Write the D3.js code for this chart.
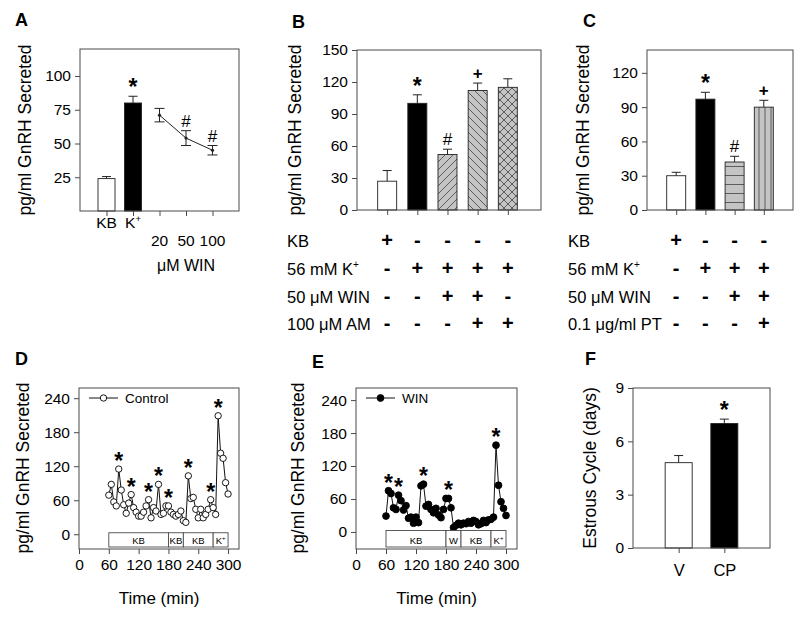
<!DOCTYPE html>
<html><head><meta charset="utf-8">
<script src="https://cdn.jsdelivr.net/npm/d3@7"></script>
<style>body{margin:0;background:#fff} text{font-family:"Liberation Sans",Arial,sans-serif;fill:#000}</style>
</head><body><svg id="c" width="800" height="617"></svg>
<script>
// ---------- DATA ----------
// Panel A
const aBarCats = ["KB", "K"];
const aBarSup = ["", "+"];
const aBarVals = [24, 80];
const aBarErr = [1.5, 5];
const aDoses = ["20", "50", "100"];
const aDoseVals = [71, 54, 45];
const aDoseErr = [5, 5.5, 3.5];
const aDoseMarks = ["", "#", "#"];
const aYTicks = [25, 50, 75, 100];
// Panel B
const bVals = [27, 100, 52, 112, 115];
const bErr = [10, 8, 5, 7, 8];
const bFills = ["white", "black", "diagUp", "diagDown", "cross"];
const bMarks = ["", "*", "#", "+", ""];
const bRowLabels = ["KB", "56 mM K", "50 μM WIN", "100 μM AM"];
const bRowSup = ["", "+", "", ""];
const bSigns = [["+","-","-","-","-"],["-","+","+","+","+"],["-","-","+","+","-"],["-","-","-","+","+"]];
const bYTicks = [0, 30, 60, 90, 120, 150];
// Panel C
const cVals = [30, 97, 42, 90];
const cErr = [3, 6, 5, 6];
const cFills = ["white", "black", "horiz", "vert"];
const cMarks = ["", "*", "#", "+"];
const cRowLabels = ["KB", "56 mM K", "50 μM WIN", "0.1 μg/ml PT"];
const cRowSup = ["", "+", "", ""];
const cSigns = [["+","-","-","-"],["-","+","+","+"],["-","-","+","+"],["-","-","-","+"]];
const cYTicks = [0, 30, 60, 90, 120];
// Panels D and E (time course, min)
const timeMin = [60,65,70,75,80,85,90,95,100,105,110,115,120,125,130,135,140,145,150,155,160,165,170,175,180,185,190,195,200,205,210,215,220,225,230,235,240,245,250,255,260,265,270,275,280,285,290,295,300];
const dControl = [69,88,57,50,115,78,52,37,55,70,47,39,32,32,39,50,61,29,47,41,88,35,37,50,50,39,35,32,35,41,24,21,103,63,65,44,29,44,29,35,44,61,47,35,209,143,134,91,71];
const dStars = [4, 9, 16, 20, 24, 32, 41, 44];
const dSegments = [{from:60,to:180,label:"KB",sup:""},{from:180,to:210,label:"KB",sup:""},{from:210,to:270,label:"KB",sup:""},{from:270,to:300,label:"K",sup:"+"}];
const eWin = [29,75,70,44,41,67,57,40,48,25,27,16,27,17,84,87,47,50,41,35,43,31,26,41,61,61,44,8,12,16,13,16,15,19,16,21,19,13,15,21,17,22,23,27,158,85,55,43,30];
const eStars = [1, 5, 15, 25, 44];
const eSegments = [{from:60,to:180,label:"KB",sup:""},{from:180,to:210,label:"W",sup:""},{from:210,to:270,label:"KB",sup:""},{from:270,to:300,label:"K",sup:"+"}];
const timeTicks = [0, 60, 120, 180, 240, 300];
const deYTicks = [0, 60, 120, 180, 240];
// Panel F
const fCats = ["V", "CP"];
const fVals = [4.8, 7.0];
const fErr = [0.4, 0.25];
const fMarks = ["", "*"];
const fYTicks = [0, 3, 6, 9];

// ---------- DRAWING ----------
const svg = d3.select("#c");
const FONT = "'Liberation Sans', Arial, sans-serif";
const FRAME = "#4a4a4a";
const GRAY = "#c4c4c4";
const HATCH = "#505050";

const defs = svg.append("defs");
function pat(id, w, h, d) {
  const p = defs.append("pattern").attr("id", id).attr("patternUnits", "userSpaceOnUse").attr("width", w).attr("height", h);
  p.append("rect").attr("width", w).attr("height", h).attr("fill", GRAY);
  p.append("path").attr("d", d).attr("stroke", HATCH).attr("stroke-width", 0.9).attr("fill", "none");
}
pat("diagUp", 8, 8, "M0,8L8,0M-2,2L2,-2M6,10L10,6");
pat("diagDown", 8, 8, "M0,0L8,8M-2,6L2,10M6,-2L10,2");
pat("cross", 8, 8, "M0,8L8,0M-2,2L2,-2M6,10L10,6M0,0L8,8M-2,6L2,10M6,-2L10,2");
pat("horiz", 8, 9, "M0,4.5L8,4.5");
pat("vert", 6, 8, "M3,0L3,8");
function fillOf(f) { return (f === "white" || f === "black") ? f : `url(#${f})`; }

function frame(x0, x1, y0, y1) {
  svg.append("rect").attr("x", x0).attr("y", y0).attr("width", x1 - x0).attr("height", y1 - y0)
    .attr("fill", "none").attr("stroke", FRAME).attr("stroke-width", 1);
}
function yAxis(scale, x0, ticks) {
  const g = svg.append("g").attr("transform", `translate(${x0},0)`)
    .call(d3.axisLeft(scale).tickValues(ticks).tickSize(5).tickPadding(4));
  g.select(".domain").remove();
  g.selectAll("line").attr("stroke", FRAME);
  g.selectAll("text").attr("font-family", FONT).attr("font-size", 15.5).attr("fill", "#111");
  return g;
}
function xTicks(scale, y0, vals, labels) {
  const g = svg.append("g").attr("transform", `translate(0,${y0})`)
    .call(d3.axisBottom(scale).tickValues(vals).tickSize(5).tickPadding(5).tickFormat((d, i) => labels ? labels[i] : d));
  g.select(".domain").remove();
  g.selectAll("line").attr("stroke", FRAME);
  g.selectAll("text").attr("font-family", FONT).attr("font-size", 15.5).attr("fill", "#111");
  return g;
}
function yTitle(text, x, y) {
  svg.append("text").attr("transform", `translate(${x},${y}) rotate(-90)`).attr("text-anchor", "middle")
    .attr("font-size", 17.5).text(text);
}
function letter(t, x, y) {
  svg.append("text").attr("x", x).attr("y", y).attr("font-size", 18).attr("font-weight", "bold").text(t);
}
function mark(t, x, y) {
  if (!t) return;
  svg.append("text").attr("x", x).attr("y", t === "*" ? y + 3 : y).attr("text-anchor", "middle")
    .attr("font-size", t === "*" ? 23 : 17).attr("font-weight", t === "#" ? "normal" : "bold").text(t);
}
function bars(xs, ys, positions, vals, errs, fills, marks, w) {
  positions.forEach((p, i) => {
    const cx = xs(p);
    svg.append("rect").attr("x", cx - w / 2).attr("y", ys(vals[i])).attr("width", w)
      .attr("height", ys(0) - ys(vals[i])).attr("fill", fillOf(fills[i])).attr("stroke", "#222").attr("stroke-width", 0.9);
    const top = ys(vals[i] + errs[i]);
    svg.append("line").attr("x1", cx).attr("x2", cx).attr("y1", ys(vals[i])).attr("y2", top).attr("stroke", "#222");
    svg.append("line").attr("x1", cx - 4.5).attr("x2", cx + 4.5).attr("y1", top).attr("y2", top).attr("stroke", "#222");
    mark(marks[i], cx, top - 4);
  });
}
function table(labelX, xs, positions, labels, sups, signs) {
  const rowY = [247, 275, 303, 330];
  labels.forEach((lab, r) => {
    const t = svg.append("text").attr("x", labelX).attr("y", rowY[r]).attr("font-size", 16.5);
    t.append("tspan").text(lab);
    if (sups[r]) t.append("tspan").attr("dy", -7).attr("font-size", 10).text(sups[r]);
    signs[r].forEach((s, c) => {
      svg.append("text").attr("x", xs(positions[c])).attr("y", rowY[r]).attr("text-anchor", "middle")
        .attr("font-weight", "bold").attr("font-size", 20).text(s);
    });
  });
}

// ----- Panel A -----
{
  const x = d3.scaleLinear().domain([0, 6]).range([80, 239]);
  const y = d3.scaleLinear().domain([0, 120]).range([211, 49]);
  const barPos = [1, 2], dosePos = [3, 4, 5];
  yAxis(y, 80, aYTicks);
  svg.append("g").attr("transform", "translate(0,211)")
    .call(d3.axisBottom(x).tickValues(barPos.concat(dosePos)).tickSize(5).tickFormat(""))
    .call(g => { g.select(".domain").remove(); g.selectAll("line").attr("stroke", FRAME); });
  bars(x, y, barPos, aBarVals, aBarErr, ["white", "black"], ["", "*"], 17);
  const pts = dosePos.map((p, i) => [x(p), y(aDoseVals[i])]);
  svg.append("path").attr("d", d3.line()(pts)).attr("fill", "none").attr("stroke", "#222").attr("stroke-width", 1);
  dosePos.forEach((p, i) => {
    const cx = x(p), t = y(aDoseVals[i] + aDoseErr[i]), b = y(aDoseVals[i] - aDoseErr[i]);
    svg.append("line").attr("x1", cx).attr("x2", cx).attr("y1", t).attr("y2", b).attr("stroke", "#222");
    [t, b].forEach(yy => svg.append("line").attr("x1", cx - 5).attr("x2", cx + 5).attr("y1", yy).attr("y2", yy).attr("stroke", "#222"));
    svg.append("circle").attr("cx", cx).attr("cy", y(aDoseVals[i])).attr("r", 1.6).attr("fill", "#222");
    mark(aDoseMarks[i], cx, t - 4);
  });
  frame(80, 239, 49, 211);
  barPos.forEach((p, i) => {
    const t = svg.append("text").attr("x", x(p)).attr("y", 228).attr("text-anchor", "middle").attr("font-size", 15.5);
    t.append("tspan").text(aBarCats[i]);
    if (aBarSup[i]) t.append("tspan").attr("dy", -6).attr("font-size", 9.5).text(aBarSup[i]);
  });
  dosePos.forEach((p, i) => svg.append("text").attr("x", x(p)).attr("y", 246).attr("text-anchor", "middle").attr("font-size", 15.5).text(aDoses[i]));
  svg.append("text").attr("x", x(4)).attr("y", 271).attr("text-anchor", "middle").attr("font-size", 16).text("μM WIN");
  yTitle("pg/ml GnRH Secreted", 31, 130);
  letter("A", 15, 26);
}

// ----- Panel B -----
{
  const x = d3.scaleLinear().domain([0, 6.1]).range([357, 541]);
  const y = d3.scaleLinear().domain([0, 150]).range([210, 50]);
  const pos = [1, 2, 3, 4, 5];
  yAxis(y, 357, bYTicks);
  xTicks(x, 210, pos, pos.map(() => ""));
  bars(x, y, pos, bVals, bErr, bFills, bMarks, 19);
  frame(357, 541, 50, 210);
  table(287, x, pos, bRowLabels, bRowSup, bSigns);
  yTitle("pg/ml GnRH Secreted", 301, 130);
  letter("B", 292, 28);
}

// ----- Panel C -----
{
  const x = d3.scaleLinear().domain([0, 5]).range([647, 793]);
  const y = d3.scaleLinear().domain([0, 140]).range([210, 50]);
  const pos = [1, 2, 3, 4];
  yAxis(y, 647, cYTicks);
  xTicks(x, 210, pos, pos.map(() => ""));
  bars(x, y, pos, cVals, cErr, cFills, cMarks, 19);
  frame(647, 793, 50, 210);
  table(568, x, pos, cRowLabels, cRowSup, cSigns);
  yTitle("pg/ml GnRH Secreted", 589, 130);
  letter("C", 583, 27);
}

// ----- Panels D & E -----
function timePanel(x0, x1, yDom, data, stars, segs, filled, legendText, titleX, letterT, letterX, letterY) {
  const x = d3.scaleLinear().domain([0, 322]).range([x0, x1]);
  const y = d3.scaleLinear().domain(yDom).range([549, 388]);
  yAxis(y, x0, deYTicks);
  xTicks(x, 549, timeTicks);
  const pts = timeMin.map((t, i) => [x(t), y(data[i])]);
  svg.append("path").attr("d", d3.line()(pts)).attr("fill", "none").attr("stroke", "#111").attr("stroke-width", 1);
  pts.forEach(p => svg.append("circle").attr("cx", p[0]).attr("cy", p[1]).attr("r", filled ? 3.4 : 3.2)
    .attr("fill", filled ? "#000" : "#fff").attr("stroke", "#000").attr("stroke-width", 0.9));
  stars.forEach(i => mark("*", x(timeMin[i]), y(data[i]) - 3));
  // treatment segments
  const sTop = y(0) - 1.5, sBot = 547;
  segs.forEach(s => {
    svg.append("rect").attr("x", x(s.from)).attr("y", sTop).attr("width", x(s.to) - x(s.from)).attr("height", sBot - sTop)
      .attr("fill", "#fff").attr("stroke", FRAME).attr("stroke-width", 0.9);
    const t = svg.append("text").attr("x", x((s.from + s.to) / 2)).attr("y", sBot - 3.5).attr("text-anchor", "middle").attr("font-size", 9.5);
    t.append("tspan").text(s.label);
    if (s.sup) t.append("tspan").attr("dy", -4).attr("font-size", 6).text(s.sup);
  });
  frame(x0, x1, 388, 549);
  // legend
  const ly = 398, lx = x0 + 10;
  svg.append("line").attr("x1", lx).attr("x2", lx + 29).attr("y1", ly).attr("y2", ly).attr("stroke", "#111");
  svg.append("circle").attr("cx", lx + 14.5).attr("cy", ly).attr("r", filled ? 3.4 : 3.2)
    .attr("fill", filled ? "#000" : "#fff").attr("stroke", "#000").attr("stroke-width", 0.9);
  svg.append("text").attr("x", lx + 36).attr("y", ly + 5).attr("font-size", 13.5).text(legendText);
  svg.append("text").attr("x", (x0 + x1) / 2).attr("y", 604).attr("text-anchor", "middle").attr("font-size", 17).text("Time (min)");
  yTitle("pg/ml GnRH Secreted", titleX, 468);
  letter(letterT, letterX, letterY);
}
timePanel(79, 239, [-26, 258], dControl, dStars, dSegments, false, "Control", 29, "D", 15, 365);
timePanel(356, 517, [-31, 262], eWin, eStars, eSegments, true, "WIN", 304, "E", 312, 368);

// ----- Panel F -----
{
  const x = d3.scaleLinear().domain([0, 3]).range([633, 770]);
  const y = d3.scaleLinear().domain([0, 9]).range([548, 388]);
  const pos = [1, 2];
  yAxis(y, 633, fYTicks);
  const g = xTicks(x, 548, pos, fCats);
  g.selectAll("text").attr("font-size", 16.5).attr("dy", "1.1em");
  bars(x, y, pos, fVals, fErr, ["white", "black"], fMarks, 27);
  frame(633, 770, 388, 548);
  yTitle("Estrous Cycle (days)", 596, 468);
  letter("F", 585, 365);
}
</script></body></html>
